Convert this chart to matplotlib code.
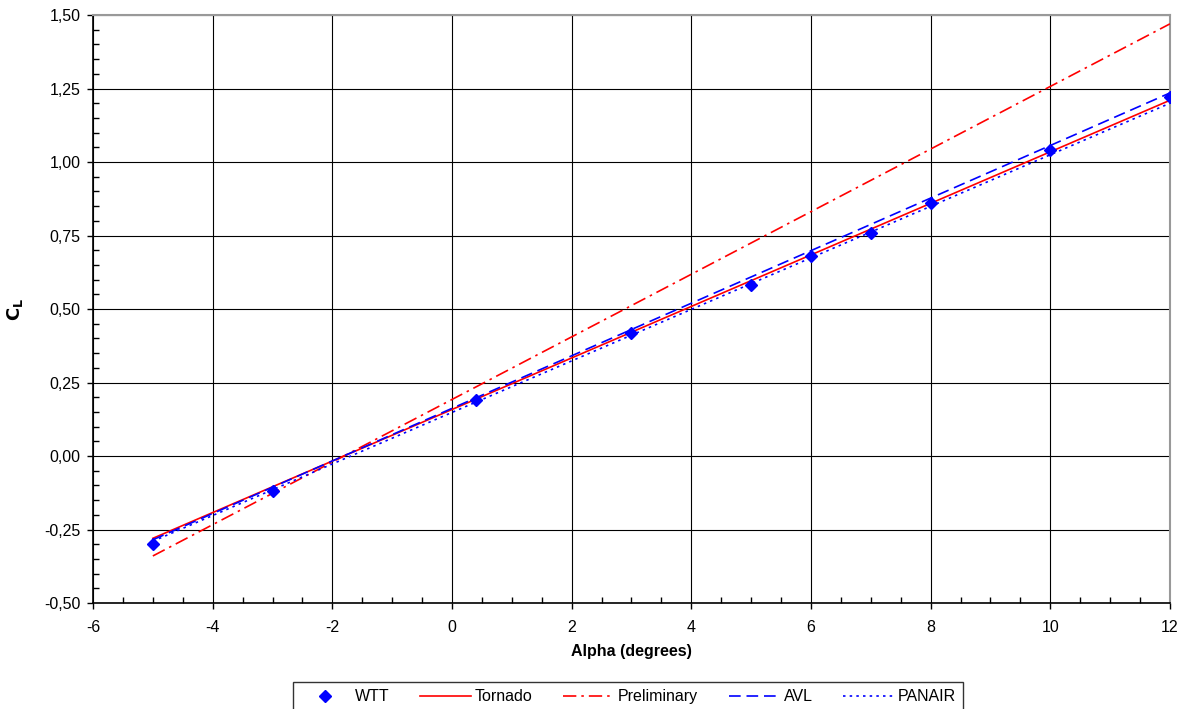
import matplotlib
matplotlib.use("Agg")
import matplotlib.pyplot as plt
from matplotlib.ticker import MultipleLocator, FuncFormatter

plt.rcParams['font.family'] = ['Liberation Sans', 'DejaVu Sans']

# Wind tunnel test measurements
wtt_alpha = [-5, -3, 0.4, 3, 5, 6, 7, 8, 10, 12]
wtt_cl = [-0.30, -0.12, 0.19, 0.42, 0.58, 0.68, 0.76, 0.86, 1.04, 1.22]

# Prediction lines (endpoints of each linear fit)
line_alpha = [-5, 12]
tornado_cl = [-0.28, 1.21]
preliminary_cl = [-0.34, 1.47]
avl_cl = [-0.285, 1.235]
panair_cl = [-0.29, 1.20]

fig = plt.figure(figsize=(11.88, 7.09), dpi=100)
ax = fig.add_axes([0.0783, 0.1495, 0.9065, 0.8293])

ax.plot(line_alpha, tornado_cl, color='#ff0000', lw=1.2, label='Tornado', zorder=3)
ax.plot(line_alpha, preliminary_cl, color='#ff0000', lw=1.2,
        dashes=(8, 3, 1.5, 3), label='Preliminary', zorder=3)
ax.plot(line_alpha, avl_cl, color='#0000ff', lw=1.2, dashes=(7, 3.5),
        label='AVL', zorder=3)
ax.plot(line_alpha, panair_cl, color='#0000ff', lw=1.2, dashes=(1.5, 2.5),
        label='PANAIR', zorder=3)
ax.plot(wtt_alpha, wtt_cl, linestyle='none', marker='D', color='#0000ff',
        markersize=6, label='WTT', zorder=4)

ax.set_xlim(-6, 12)
ax.set_ylim(-0.5, 1.5)
ax.xaxis.set_major_locator(MultipleLocator(2))
ax.xaxis.set_minor_locator(MultipleLocator(0.5))
ax.yaxis.set_major_locator(MultipleLocator(0.25))
ax.yaxis.set_minor_locator(MultipleLocator(0.05))
ax.yaxis.set_major_formatter(FuncFormatter(lambda v, p: f"{v:.2f}".replace('.', ',')))
ax.xaxis.set_major_formatter(FuncFormatter(lambda v, p: f"{v:.0f}"))

ax.grid(True, which='major', color='#000000', lw=0.8)
ax.set_axisbelow(True)
ax.tick_params(which='major', direction='out', length=4, width=1, labelsize=11.5, colors='black')
ax.tick_params(which='minor', direction='in', length=4, width=1)
ax.tick_params(axis='x', which='major', pad=8)
ax.tick_params(axis='y', which='major', pad=5)

for side in ['top', 'right']:
    ax.spines[side].set_color('#999999')
    ax.spines[side].set_linewidth(1.5)
for side in ['left', 'bottom']:
    ax.spines[side].set_color('black')
    ax.spines[side].set_linewidth(1.2)

ax.set_xlabel('Alpha (degrees)', fontsize=11.5, fontweight='bold', labelpad=7)
ax.set_ylabel(r'$\mathbf{C_L}$', fontsize=13, labelpad=14)

handles, labels = ax.get_legend_handles_labels()
order = [4, 0, 1, 2, 3]
leg = fig.legend([handles[i] for i in order], [labels[i] for i in order],
                 loc='upper center', bbox_to_anchor=(0.5286, 1 - 682 / 709), ncol=5,
                 fontsize=11.5, frameon=True, fancybox=False, edgecolor='black',
                 handlelength=3.2, columnspacing=1.9, handletextpad=0.25,
                 borderpad=0.45, borderaxespad=0)
leg.get_frame().set_linewidth(1.0)

fig.savefig('out.png', dpi=100)
